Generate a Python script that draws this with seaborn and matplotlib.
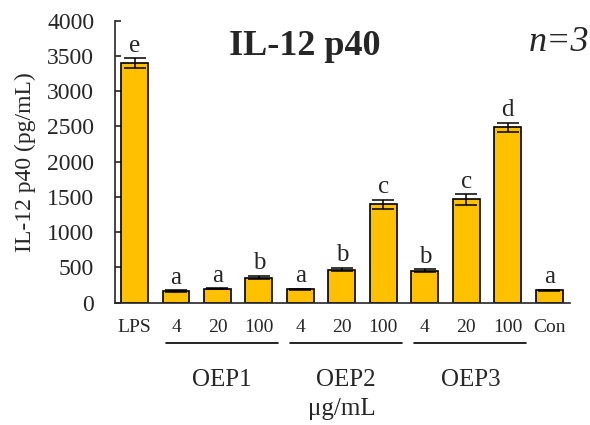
import matplotlib
matplotlib.use('Agg')
import matplotlib.pyplot as plt
import pandas as pd
import seaborn as sns

# Data
tick_labels = ['LPS', '4', '20', '100', '4', '20', '100', '4', '20', '100', 'Con']
means = [3400, 165, 195, 355, 190, 468, 1395, 450, 1465, 2490, 175]
errors = [70, 10, 8, 25, 8, 25, 65, 20, 78, 65, 8]
letters = ['e', 'a', 'a', 'b', 'a', 'b', 'c', 'b', 'c', 'd', 'a']
groups = ['OEP1', 'OEP2', 'OEP3']
group_members = [[1, 2, 3], [4, 5, 6], [7, 8, 9]]

sns.set_style('ticks')
plt.rcParams['font.family'] = ['Liberation Serif', 'DejaVu Serif']

df = pd.DataFrame({'pos': range(len(means)), 'value': means})

fig = plt.figure(figsize=(5.9, 4.25), dpi=100)
ax = fig.add_axes([0.195, 0.288, 0.771, 0.663])

sns.barplot(data=df, x='pos', y='value', color='#FFC000', saturation=1,
            width=0.65, edgecolor='black', linewidth=1.2, errorbar=None, ax=ax)
ax.errorbar(df['pos'], means, yerr=errors, fmt='none', ecolor='black',
            elinewidth=1.1, capsize=8, capthick=1.1)

# significance letters above the error bars
for i, (m, e, lt) in enumerate(zip(means, errors, letters)):
    ax.annotate(lt, (i, m + e), xytext=(0, 1), textcoords='offset points',
                ha='center', va='bottom', fontsize=18)

ax.set_xlim(-0.47, 10.5)
ax.set_ylim(0, 4000)
ax.set_yticks(range(0, 4001, 500))
ax.set_xticks(range(len(tick_labels)))
ax.set_xticklabels(tick_labels)
ax.tick_params(axis='x', length=0, pad=12, labelsize=14)
ax.tick_params(axis='y', direction='in', length=4, width=1.2, labelsize=17, pad=15)
ax.set_xlabel('')
ax.set_ylabel('IL-12 p40 (pg/mL)', fontsize=17, labelpad=8)
sns.despine(ax=ax)
for s in ['left', 'bottom']:
    ax.spines[s].set_linewidth(1.2)

# group underlines and labels
trans = ax.get_xaxis_transform()
for name, idx in zip(groups, group_members):
    ax.plot([idx[0] - 0.25, idx[-1] + 0.45], [-0.142, -0.142], color='black',
            lw=1.2, transform=trans, clip_on=False)
    ax.text((idx[0] + idx[-1]) / 2 + 0.1, -0.275, name, transform=trans,
            ha='center', va='center', fontsize=18)
ax.text(5, -0.378, 'μg/mL', transform=trans, ha='center', va='center', fontsize=18)

ax.text(0.4176, 0.88, 'IL-12 p40', transform=ax.transAxes, ha='center',
        va='baseline', fontsize=26, fontweight='bold')
ax.text(0.975, 0.894, 'n=3', transform=ax.transAxes, ha='center',
        va='baseline', fontsize=26, fontstyle='italic')

fig.savefig('out.png', dpi=100)
